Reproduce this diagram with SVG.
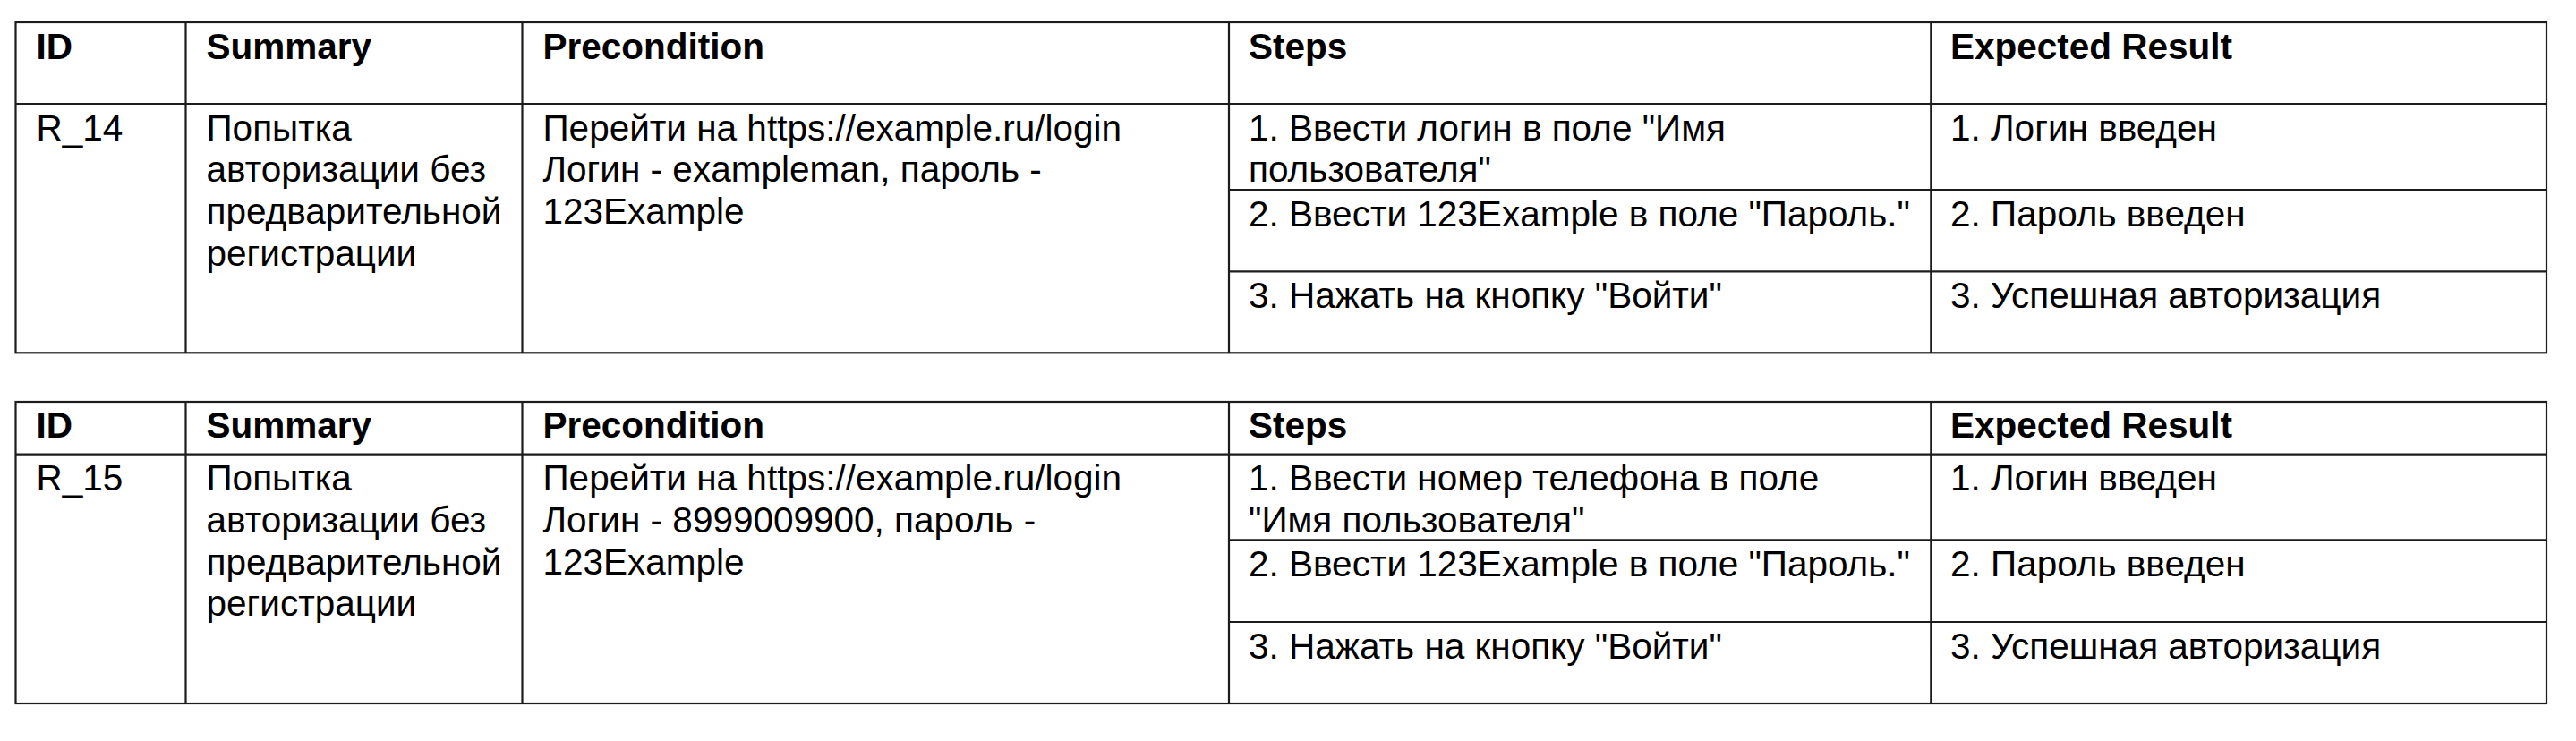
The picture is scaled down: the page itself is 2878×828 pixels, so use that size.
<svg xmlns="http://www.w3.org/2000/svg" width="2878" height="828" viewBox="0 0 2878 828">
<style>
.bg{fill:#ffffff}
.ln{stroke:#1c1c1c;stroke-width:2.2;fill:none}
.h{font-family:"Liberation Sans",Arial,sans-serif;font-size:40.5px;font-weight:bold;fill:#000}
.t{font-family:"Liberation Sans",Arial,sans-serif;font-size:40.5px;fill:#000}
</style>
<rect class="bg" x="0" y="0" width="2878" height="828"/>
<g id="connectors">
  <g id="grid-table1">
    <rect class="ln" x="17.5" y="25" width="2827.5" height="369.3"/>
    <line class="ln" x1="17.5" y1="116" x2="2845" y2="116"/>
    <line class="ln" x1="207.5" y1="25" x2="207.5" y2="394.3"/>
    <line class="ln" x1="583.5" y1="25" x2="583.5" y2="394.3"/>
    <line class="ln" x1="1373" y1="25" x2="1373" y2="394.3"/>
    <line class="ln" x1="2157.3" y1="25" x2="2157.3" y2="394.3"/>
    <line class="ln" x1="1373" y1="212" x2="2845" y2="212"/>
    <line class="ln" x1="1373" y1="303.3" x2="2845" y2="303.3"/>
  </g>
  <g id="grid-table2">
    <rect class="ln" x="17.5" y="449" width="2827.5" height="337"/>
    <line class="ln" x1="17.5" y1="507.7" x2="2845" y2="507.7"/>
    <line class="ln" x1="207.5" y1="449" x2="207.5" y2="786"/>
    <line class="ln" x1="583.5" y1="449" x2="583.5" y2="786"/>
    <line class="ln" x1="1373" y1="449" x2="1373" y2="786"/>
    <line class="ln" x1="2157.3" y1="449" x2="2157.3" y2="786"/>
    <line class="ln" x1="1373" y1="603.3" x2="2845" y2="603.3"/>
    <line class="ln" x1="1373" y1="695" x2="2845" y2="695"/>
  </g>
</g>
<g id="table1">
  <g id="t1-header">
    <text class="h" x="40.5" y="66">ID</text>
    <text class="h" x="230.5" y="66">Summary</text>
    <text class="h" x="606.5" y="66">Precondition</text>
    <text class="h" x="1395" y="66">Steps</text>
    <text class="h" x="2179" y="66">Expected Result</text>
  </g>
  <g id="t1-id"><text class="t" x="40.5" y="156.7">R_14</text></g>
  <g id="t1-summary">
    <text class="t" x="230.5" y="156.7">Попытка</text>
    <text class="t" x="230.5" y="203.3">авторизации без</text>
    <text class="t" x="230.5" y="250">предварительной</text>
    <text class="t" x="230.5" y="296.7">регистрации</text>
  </g>
  <g id="t1-precondition">
    <text class="t" x="606.5" y="156.7">Перейти на https://example.ru/login</text>
    <text class="t" x="606.5" y="203.3">Логин - exampleman, пароль -</text>
    <text class="t" x="606.5" y="250">123Example</text>
  </g>
  <g id="t1-step1">
    <text class="t" x="1395" y="156.7">1. Ввести логин в поле "Имя</text>
    <text class="t" x="1395" y="203.3">пользователя"</text>
  </g>
  <g id="t1-step2"><text class="t" x="1395" y="252.5">2. Ввести 123Example в поле "Пароль."</text></g>
  <g id="t1-step3"><text class="t" x="1395" y="344">3. Нажать на кнопку "Войти"</text></g>
  <g id="t1-result1"><text class="t" x="2179" y="156.7">1. Логин введен</text></g>
  <g id="t1-result2"><text class="t" x="2179" y="252.5">2. Пароль введен</text></g>
  <g id="t1-result3"><text class="t" x="2179" y="344">3. Успешная авторизация</text></g>
</g>
<g id="table2">
  <g id="t2-header">
    <text class="h" x="40.5" y="489">ID</text>
    <text class="h" x="230.5" y="489">Summary</text>
    <text class="h" x="606.5" y="489">Precondition</text>
    <text class="h" x="1395" y="489">Steps</text>
    <text class="h" x="2179" y="489">Expected Result</text>
  </g>
  <g id="t2-id"><text class="t" x="40.5" y="548.3">R_15</text></g>
  <g id="t2-summary">
    <text class="t" x="230.5" y="548.3">Попытка</text>
    <text class="t" x="230.5" y="595">авторизации без</text>
    <text class="t" x="230.5" y="641.7">предварительной</text>
    <text class="t" x="230.5" y="688.3">регистрации</text>
  </g>
  <g id="t2-precondition">
    <text class="t" x="606.5" y="548.3">Перейти на https://example.ru/login</text>
    <text class="t" x="606.5" y="595">Логин - 8999009900, пароль -</text>
    <text class="t" x="606.5" y="641.7">123Example</text>
  </g>
  <g id="t2-step1">
    <text class="t" x="1395" y="548.3">1. Ввести номер телефона в поле</text>
    <text class="t" x="1395" y="595">"Имя пользователя"</text>
  </g>
  <g id="t2-step2"><text class="t" x="1395" y="644">2. Ввести 123Example в поле "Пароль."</text></g>
  <g id="t2-step3"><text class="t" x="1395" y="735.7">3. Нажать на кнопку "Войти"</text></g>
  <g id="t2-result1"><text class="t" x="2179" y="548.3">1. Логин введен</text></g>
  <g id="t2-result2"><text class="t" x="2179" y="644">2. Пароль введен</text></g>
  <g id="t2-result3"><text class="t" x="2179" y="735.7">3. Успешная авторизация</text></g>
</g>
</svg>
